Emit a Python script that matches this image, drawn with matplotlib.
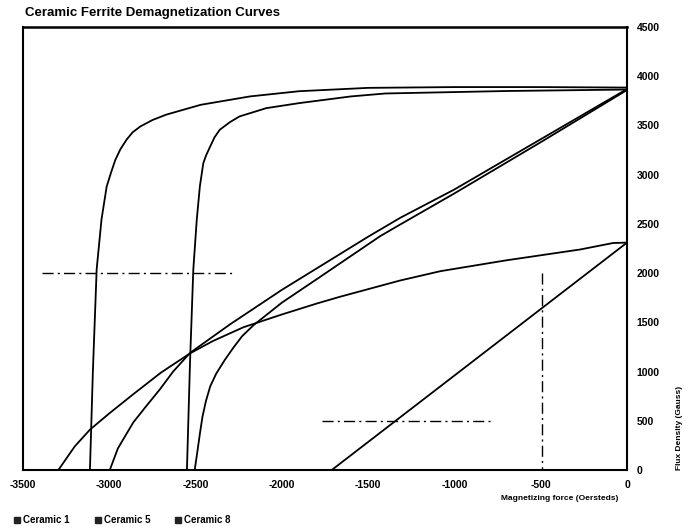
import matplotlib
matplotlib.use("Agg")
import matplotlib.pyplot as plt
from matplotlib.lines import Line2D

# ---------------- data (H in Oersteds, B in Gauss) ----------------
title = "Ceramic Ferrite Demagnetization Curves"
x_label = "Magnetizing force (Oersteds)"
y_label = "Flux Density (Gauss)"
legend_labels = ["Ceramic 1", "Ceramic 5", "Ceramic 8"]

x_ticks = [-3500, -3000, -2500, -2000, -1500, -1000, -500, 0]
x_tick_labels = ["-3500", "-3000", "-2500", "-2000", "-1500", "-1000", "-500", "0"]
y_ticks = [0, 500, 1000, 1500, 2000, 2500, 3000, 3500, 4000, 4500]
y_tick_labels = ["0", "500", "1000", "1500", "2000", "2500", "3000", "3500", "4000", "4500"]

# Ceramic 8 intrinsic curve
c8_int_h = [0, -500, -1000, -1500, -1900, -2185, -2470, -2670, -2750, -2820, -2865, -2900,
            -2935, -2965, -2990, -3015, -3045, -3073, -3095, -3112]
c8_int_b = [3885, 3890, 3890, 3882, 3848, 3795, 3710, 3610, 3555, 3490, 3430, 3355,
            3260, 3150, 3020, 2880, 2545, 2040, 1000, 0]

# Ceramic 5 intrinsic curve
c5_int_h = [0, -700, -1400, -1600, -1900, -2090, -2245, -2300, -2360, -2390, -2415, -2438,
            -2455, -2475, -2493, -2513, -2532, -2550]
c5_int_b = [3865, 3850, 3825, 3795, 3727, 3676, 3592, 3535, 3456, 3380, 3287, 3200,
            3118, 2882, 2544, 2037, 1100, 0]

# Ceramic 8 normal curve
c8_b_h = [0, -500, -1000, -1315, -1500, -2000, -2300, -2532, -2630, -2706, -2790, -2861, -2950, -2997]
c8_b_b = [3870, 3360, 2850, 2561, 2370, 1830, 1480, 1190, 1000, 821, 640, 483, 220, 0]

# Ceramic 5 normal curve
c5_b_h = [0, -500, -1000, -1315, -1430, -1800, -2000, -2165, -2230, -2280, -2330, -2380,
          -2415, -2440, -2460, -2474, -2490, -2505]
c5_b_b = [3860, 3330, 2810, 2493, 2376, 1936, 1700, 1470, 1360, 1245, 1120, 980,
          850, 700, 540, 380, 180, 0]

# Ceramic 1 intrinsic curve
c1_int_h = [0, -81, -272, -700, -1081, -1315, -1663, -1800, -2000, -2223, -2400, -2532,
            -2700, -2861, -3000, -3112, -3200, -3295]
c1_int_b = [2310, 2306, 2240, 2130, 2020, 1925, 1760, 1690, 1580, 1450, 1310, 1185,
            990, 770, 575, 410, 240, 0]

# Ceramic 1 normal curve
c1_b_h = [0, -1711]
c1_b_b = [2310, 0]

# dash-dot reference lines
ref1_h = [-3390, -2290]
ref1_b = [2000, 2000]
ref2_h = [-1770, -780]
ref2_b = [500, 500]
ref3_h = [-490, -490]
ref3_b = [2000, 0]

# ---------------- drawing ----------------
fam = ["Liberation Sans", "DejaVu Sans"]
plt.rcParams["font.family"] = fam

fig = plt.figure(figsize=(6.9, 5.32), dpi=100)
ax = fig.add_axes([0.0333, 0.1165, 0.8754, 0.8327])

lw = 1.3
for h, b in [(c8_int_h, c8_int_b), (c5_int_h, c5_int_b), (c8_b_h, c8_b_b),
             (c5_b_h, c5_b_b), (c1_int_h, c1_int_b), (c1_b_h, c1_b_b)]:
    ax.plot(h, b, color="black", lw=lw, solid_capstyle="round", solid_joinstyle="round")

for h, b in [(ref1_h, ref1_b), (ref2_h, ref2_b), (ref3_h, ref3_b)]:
    ax.plot(h, b, color="black", lw=1.0, linestyle=(0, (8, 3, 1.5, 3)))

ax.set_xlim(-3500, 0)
ax.set_ylim(0, 4500)
for s in ax.spines.values():
    s.set_linewidth(1.5)
    s.set_color("black")
ax.spines["top"].set_linewidth(1.8)

ax.set_xticks(x_ticks)
ax.set_xticklabels(x_tick_labels, fontsize=7.5, fontweight="bold")
ax.set_yticks(y_ticks)
ax.set_yticklabels(y_tick_labels, fontsize=7.5, fontweight="bold")
ax.yaxis.tick_right()
ax.tick_params(axis="both", length=0)
ax.tick_params(axis="x", pad=7)
ax.tick_params(axis="y", pad=7)

fig.text(0.036, 0.976, title, fontsize=9.5, fontweight="bold", ha="left", va="center")
fig.text(0.896, 0.063, x_label, fontsize=6, fontweight="bold", ha="right", va="center")
fig.text(0.985, 0.195, y_label, fontsize=6, fontweight="bold", ha="center", va="center", rotation=90)

handles = [Line2D([], [], linestyle="none", marker="s", markersize=4.5,
                  markerfacecolor="#222222", markeredgecolor="#222222") for _ in legend_labels]
fig.legend(handles, legend_labels, loc="center left", bbox_to_anchor=(0.008, 0.022),
           ncol=3, frameon=False, handlelength=0.6, handletextpad=0.3,
           columnspacing=2.6, prop={"family": fam, "size": 7, "weight": "bold"})

fig.savefig("out.png", dpi=100, facecolor="white")
